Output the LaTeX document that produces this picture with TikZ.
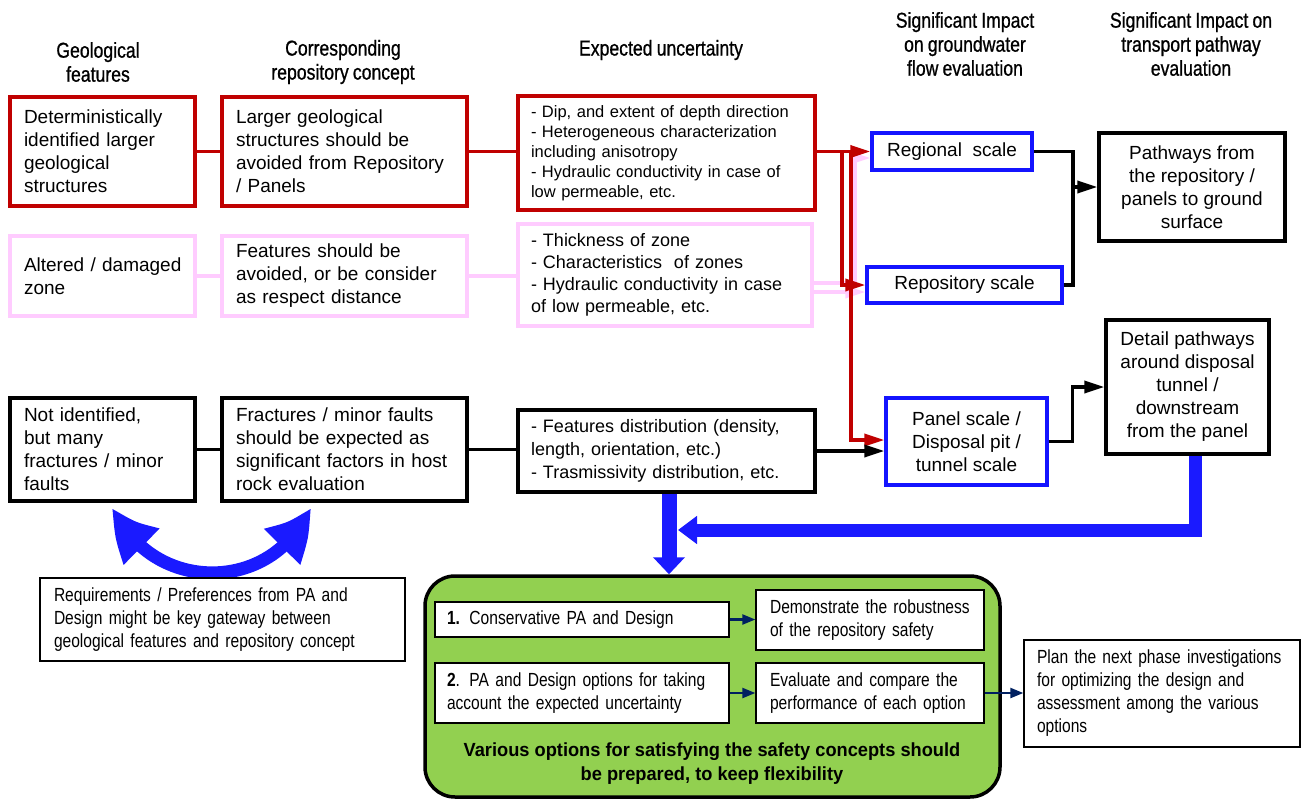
\documentclass[tikz,border=0pt]{standalone}
\usepackage{fontspec}
\setmainfont{Liberation Sans}
\newfontfamily\narrowfont[FakeStretch=0.82,WordSpace=0.8]{Liberation Sans}
\newfontfamily\hdrfont[FakeStretch=0.82,FakeBold=0.8,WordSpace=0.85]{Liberation Sans}
\newfontfamily\gothfont[FakeStretch=0.96]{Liberation Sans}
\usetikzlibrary{arrows.meta,calc,bending}

\definecolor{boxred}{HTML}{C00000}
\definecolor{boxpink}{HTML}{FFCCFF}
\definecolor{boxblue}{HTML}{1414FF}
\definecolor{bigblue}{HTML}{1A1AFF}
\definecolor{navy}{HTML}{002060}
\definecolor{leaf}{HTML}{92D050}

\tikzset{
  hdr/.style={align=center, inner sep=0pt, font=\hdrfont\fontsize{21.5}{24}\selectfont},
  body/.style={font=\fontsize{19}{23}\selectfont},
  frame/.style={draw, line width=3.3pt, inner sep=0pt, fill=white},
  redbox/.style={frame, draw=boxred, align=left},
  pinkbox/.style={frame, draw=boxpink, align=left},
  blackbox/.style={frame, draw=black, align=left},
  bluebox/.style={frame, draw=boxblue, align=center, body},
  thinbox/.style={draw=black, line width=1.3pt, fill=white, inner sep=0pt, align=left,
                  font=\narrowfont\fontsize{19}{23}\selectfont},
  redline/.style={draw=boxred, line width=3.5pt},
  pinkline/.style={draw=boxpink, line width=3.5pt},
  blackline/.style={draw=black, line width=3.5pt},
  tipA/.style={-{Triangle[length=20pt,width=12pt]}},
  navyarrow/.style={draw=navy, line width=2.2pt, -{Triangle[length=13pt,width=10pt]}},
}

\begin{document}
\begin{tikzpicture}[x=1pt,y=-1pt]
\useasboundingbox (0,0) rectangle (1301,800);

% column headings
\node[hdr] (h1) at (98,62) {Geological\\features};
\node[hdr] (h2) at (343,62) {Corresponding\\repository concept};
\node[hdr] (h3) at (661,50) {Expected uncertainty};
\node[hdr] (h4) at (965,44) {Significant Impact\\on groundwater\\flow evaluation};
\node[hdr] (h5) at (1191,44) {Significant Impact on\\transport pathway\\evaluation};

% first row: larger structures
\node[redbox, body, minimum width=185, minimum height=109, text width=157pt] (a1) at (102.5,151.5)
  {Deterministically\\identified larger\\geological\\structures};
\node[redbox, body, minimum width=245, minimum height=109, text width=217pt] (b1) at (344.5,151.5)
  {Larger geological\\structures should be\\avoided from Repository\\/ Panels};
\node[redbox, font=\fontsize{16.5}{20}\selectfont, minimum width=297, minimum height=114, text width=271pt] (c1) at (666.5,153)
  {- Dip, and extent of depth direction\\- Heterogeneous characterization\\including anisotropy\\- Hydraulic conductivity in case of\\low permeable, etc.};

% second row: altered zone
\node[pinkbox, body, minimum width=185, minimum height=80, text width=157pt] (a2) at (102.5,276)
  {\mbox{Altered / damaged}\\zone};
\node[pinkbox, body, minimum width=245, minimum height=80, text width=217pt] (b2) at (344.5,276)
  {Features should be\\avoided, or be consider\\as respect distance};
\node[pinkbox, font=\fontsize{18}{22}\selectfont, minimum width=294, minimum height=102, text width=268pt] (c2) at (665,275)
  {- Thickness of zone\\- Characteristics\ \ of zones\\- Hydraulic conductivity in case\\of low permeable, etc.};

% third row: fractures
\node[blackbox, body, minimum width=185, minimum height=103, text width=157pt] (a3) at (102.5,449.5)
  {Not identified,\\but many\\fractures / minor\\faults};
\node[blackbox, body, minimum width=245, minimum height=103, text width=217pt] (b3) at (344.5,449.5)
  {Fractures / minor faults\\should be expected as\\significant factors in host\\rock evaluation};
\node[blackbox, font=\fontsize{18}{23}\selectfont, minimum width=297, minimum height=82, text width=271pt] (c3) at (666.5,451)
  {- Features distribution (density,\\length, orientation, etc.)\\- Trasmissivity distribution, etc.};

% scales
\node[bluebox, minimum width=160, minimum height=37] (r1) at (952,151.5) {Regional\ \ scale};
\node[bluebox, minimum width=195, minimum height=36] (r2) at (964.5,285) {Repository scale};
\node[bluebox, minimum width=161, minimum height=87] (r3) at (966.5,441.5) {Panel scale /\\Disposal pit /\\tunnel scale};

% pathways
\node[blackbox, body, align=center, minimum width=186, minimum height=108] (t1) at (1192,187)
  {Pathways from\\the repository /\\panels to ground\\surface};
\node[blackbox, body, align=center, minimum width=163, minimum height=134] (t2) at (1187.5,387)
  {Detail pathways\\around disposal\\tunnel /\\downstream\\from the panel};

% row links
\draw[redline] (a1.east) -- (b1.west);
\draw[redline] (b1.east) -- (b1.east -| c1.west);
\draw[pinkline] (a2.east) -- (a2.east -| b2.west);
\draw[pinkline] (b2.east) -- (b2.east -| c2.west);
\draw[blackline] (a3.east) -- (b3.west);
\draw[blackline] (b3.east) -- (b3.east -| c3.west);

% altered zone feeds regional and repository scales
\coordinate (pk) at (855,220);
\draw[pinkline, tipA] ([yshift=-8pt]c2.east) -| (pk) |- ([yshift=-6.5pt]r1.west);
\draw[pinkline, tipA] ([yshift=-17pt]c2.east) -- ([yshift=-17pt]c2.east -| r2.west);

% larger structures feed all three scales
\coordinate (rv1) at (842,151.5);
\coordinate (rv2) at (851,151.5);
\draw[redline, tipA] (c1.east |- r1.west) -- (r1.west);
\draw[redline, tipA] (rv1) |- (r2.west);
\draw[redline, tipA] (rv2) |- ([yshift=1.5pt]r3.west);

% fractures feed panel scale
\draw[blackline, tipA] (c3.east) -- (c3.east -| r3.west);

% scales to pathways
\coordinate (jt) at (1073,187);
\draw[blackline] (r1.east) -| (jt);
\draw[blackline] (r2.east) -| (jt);
\draw[blackline, tipA] (jt) -- (t1.west);
\draw[blackline, tipA] (r3.east) -| ($(t2.west)+(-32,0)$) -- (t2.west);

% curved double arrow between the first two columns
\draw[draw=bigblue, line width=13pt,
      {Triangle[length=52pt,width=46pt,bend]}-{Triangle[length=52pt,width=46pt,bend]}]
  ([xshift=10.5pt,yshift=-4pt]a3.south) .. controls (150,595) and (275,595) .. ([xshift=-34.5pt,yshift=-4pt]b3.south);

\node[thinbox, minimum width=365, minimum height=83, text width=337pt] (req) at (222.5,619.5)
  {Requirements / Preferences from PA and\\Design might be key gateway between\\geological features and repository concept};

% safety concept options
\node[draw=black, line width=3.5pt, fill=leaf, rounded corners=30pt, minimum width=575, minimum height=221, inner sep=0pt] (gbox) at (712.5,686.5) {};
\node[thinbox, minimum width=294, minimum height=35, text width=270pt] (g1) at (582,619.5)
  {\textbf{1.} Conservative PA and Design};
\node[thinbox, minimum width=228, minimum height=60, text width=200pt] (g2) at (870,620)
  {Demonstrate the robustness\\of the repository safety};
\node[thinbox, minimum width=294, minimum height=60, text width=270pt] (g3) at (582,693)
  {\textbf{2}. PA and Design options for taking\\account the expected uncertainty};
\node[thinbox, minimum width=228, minimum height=60, text width=200pt] (g4) at (870,693)
  {Evaluate and compare the\\performance of each option};
\node[align=center, inner sep=0pt, font=\gothfont\bfseries\fontsize{19}{24}\selectfont] (gtext) at (712,764)
  {Various options for satisfying the safety concepts should\\be prepared, to keep flexibility};

\node[thinbox, minimum width=276, minimum height=107, text width=250pt] (p) at (1162,693.5)
  {Plan the next phase investigations\\for optimizing the design and\\assessment among the various\\options};

\draw[navyarrow] (g1.east) -- (g1.east -| g2.west);
\draw[navyarrow] (g3.east) -- (g3.east -| g4.west);
\draw[navyarrow] (g4.east) -- (g4.east -| p.west);

% broad arrows into the options box
\draw[draw=bigblue, line width=15pt, -{Triangle[length=17pt,width=31pt]}]
  ([xshift=2.5pt]c3.south) -- ([xshift=2.5pt]c3.south |- gbox.north);
\coordinate (hx) at (678,530);
\draw[draw=bigblue, line width=13pt, -{Triangle[length=19pt,width=27pt]}]
  ([xshift=7.5pt]t2.south) |- (hx);
\end{tikzpicture}
\end{document}
